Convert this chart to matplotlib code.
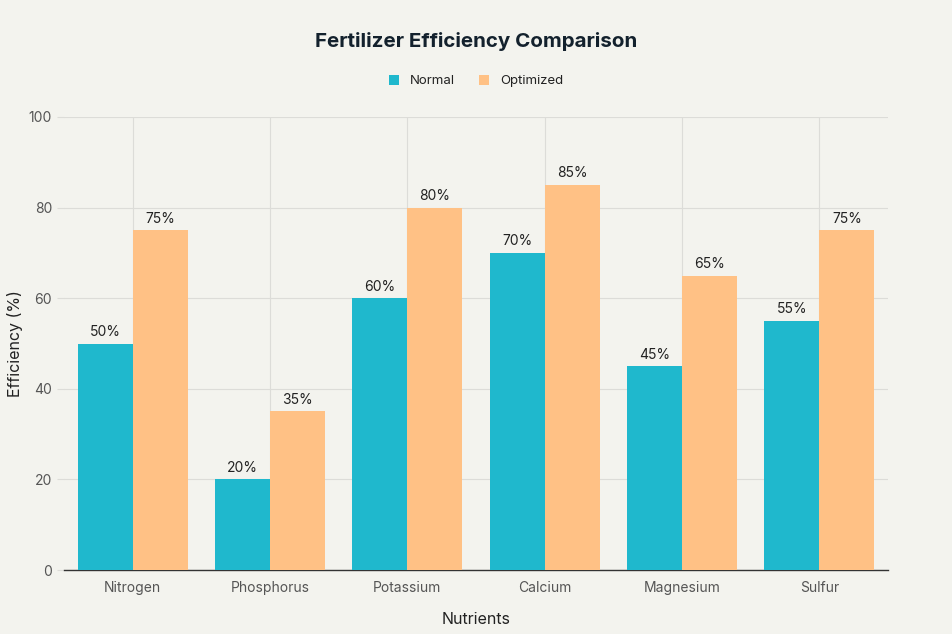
import matplotlib
matplotlib.use("Agg")
import matplotlib.pyplot as plt
import numpy as np

plt.rcParams['font.family'] = ['Inter', 'DejaVu Sans']

categories = ["Nitrogen", "Phosphorus", "Potassium", "Calcium", "Magnesium", "Sulfur"]
normal = [50, 20, 60, 70, 45, 55]
optimized = [75, 35, 80, 85, 65, 75]
series_names = ["Normal", "Optimized"]
yticks = [0, 20, 40, 60, 80, 100]

bg = "#F3F3EE"
c_norm = "#1FB8CD"
c_opt = "#FFC185"

fig = plt.figure(figsize=(9.52, 6.34), dpi=100, facecolor=bg)
ax = fig.add_axes([0.0672, 0.1009, 0.8656, 0.7146], facecolor=bg)

x = np.arange(len(categories))
w = 0.4
b1 = ax.bar(x - w/2, normal, w, color=c_norm, label=series_names[0], zorder=3)
b2 = ax.bar(x + w/2, optimized, w, color=c_opt, label=series_names[1], zorder=3)

for bars, vals in ((b1, normal), (b2, optimized)):
    for r, v in zip(bars, vals):
        ax.text(r.get_x() + r.get_width()/2, v + 1.0, f"{v}%", ha="center", va="bottom",
                fontsize=10, color="#222222")

ax.set_xlim(-0.5, len(categories) - 0.5)
ax.set_ylim(0, 100)
ax.set_yticks(yticks)
ax.set_xticks(x)
ax.set_xticklabels(categories)
ax.grid(True, color="#DCDCD8", linewidth=0.8, zorder=0)
for s in ("top", "right", "left"):
    ax.spines[s].set_visible(False)
ax.spines["bottom"].set_color("#333333")
ax.spines["bottom"].set_linewidth(1.0)
ax.tick_params(axis="y", colors="#DCDCD8", labelcolor="#555555", labelsize=10, length=5, width=0.8)
ax.tick_params(axis="x", length=0, labelcolor="#555555", labelsize=10, pad=8)

ax.set_xlabel("Nutrients", fontsize=11.5, color="#222222", labelpad=12)
ax.yaxis.set_label_coords(-0.05, 0.5)
ax.set_ylabel("Efficiency (%)", fontsize=11.5, color="#222222")

fig.text(0.5, 0.935, "Fertilizer Efficiency Comparison", ha="center", va="center",
         fontsize=14.8, fontweight="bold", color="#13212D")
fig.legend(handles=[b1, b2], labels=series_names, loc="center", bbox_to_anchor=(0.5, 0.872),
           ncol=2, frameon=False, fontsize=9.5, handlelength=0.8, handleheight=0.8,
           columnspacing=1.8, handletextpad=0.8, labelcolor="#222222")

fig.savefig("out.png", dpi=100, facecolor=bg)
